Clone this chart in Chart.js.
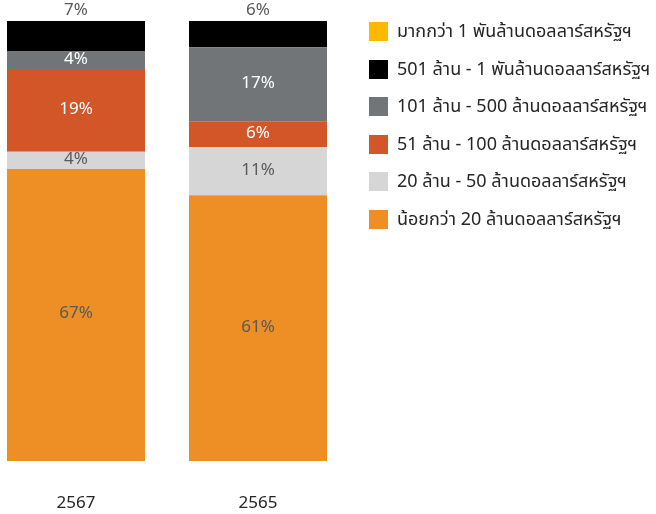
<!DOCTYPE html>
<html>
<head>
<meta charset="utf-8">
<script src="https://cdn.jsdelivr.net/npm/chart.js@4.4.1/dist/chart.umd.min.js"></script>
<style>
  html, body { margin: 0; padding: 0; background: #fff; }
  #wrap { position: relative; width: 656px; height: 514px; }
  #chart { position: absolute; left: 0; top: 0; }
  #legend { position: absolute; left: 369px; top: 22px; margin: 0; padding: 0; list-style: none;
    font-family: "Noto Sans Thai", "Noto Sans", Tahoma, sans-serif; font-size: 18px; color: #262626; }
  #legend li { height: 37.6px; display: flex; align-items: flex-start; white-space: nowrap; }
  #legend .box { width: 19px; height: 19px; margin-right: 9px; flex: none; }
  #legend .txt { line-height: 19px; }
</style>
</head>
<body>
<div id="wrap">
  <canvas id="chart" width="656" height="514"></canvas>
  <ul id="legend"></ul>
</div>
<script>
const years = ['2567', '2565'];
// bottom to top of each stack
const seriesNames = [
  'น้อยกว่า 20 ล้านดอลลาร์สหรัฐฯ',
  '20 ล้าน - 50 ล้านดอลลาร์สหรัฐฯ',
  '51 ล้าน - 100 ล้านดอลลาร์สหรัฐฯ',
  '101 ล้าน - 500 ล้านดอลลาร์สหรัฐฯ',
  '501 ล้าน - 1 พันล้านดอลลาร์สหรัฐฯ',
  'มากกว่า 1 พันล้านดอลลาร์สหรัฐฯ',
];
const under20 = [67, 61];
const from20to50 = [4, 11];
const from51to100 = [19, 6];
const from101to500 = [4, 17];
const from501to1000 = [7, 6];
const over1000 = [0, 0];
const colors = ['#ED8F24', '#D5D6D5', '#D25627', '#727577', '#000000', '#FFB800'];
const labelColors = ['#5a5a5a', '#5a5a5a', '#ffffff', '#ffffff', '#5a5a5a', '#5a5a5a'];

const values = [under20, from20to50, from51to100, from101to500, from501to1000, over1000];
const FONT = '"Noto Sans Thai", "Noto Sans", Tahoma, sans-serif';

const valueLabels = {
  id: 'valueLabels',
  afterDatasetsDraw(chart) {
    const ctx = chart.ctx;
    ctx.save();
    ctx.font = '17px ' + FONT;
    ctx.textAlign = 'center';
    ctx.textBaseline = 'middle';
    chart.data.datasets.forEach((ds, i) => {
      const meta = chart.getDatasetMeta(i);
      meta.data.forEach((bar, j) => {
        const v = ds.data[j];
        if (!v) return;
        ctx.fillStyle = labelColors[i];
        let y = (bar.y + bar.base) / 2;
        if (i === 4) y = bar.y - 9; // top black segment: label above the bar
        ctx.fillText(v + '%', bar.x, y);
      });
    });
    ctx.restore();
  },
};

const chart = new Chart(document.getElementById('chart'), {
  type: 'bar',
  data: {
    labels: years,
    datasets: seriesNames.map((name, i) => ({
      label: name,
      data: values[i],
      backgroundColor: colors[i],
      borderWidth: 0,
      clip: false,
    })),
  },
  options: {
    responsive: false,
    animation: false,
    categoryPercentage: 1,
    barPercentage: 138 / 182,
    layout: { padding: { left: 76, right: 398, top: 21, bottom: 0 } },
    scales: {
      x: {
        stacked: true,
        offset: false,
        grid: { display: false },
        border: { display: false },
        ticks: { padding: 25, color: '#262626', font: { size: 17, family: FONT } },
        afterFit: (axis) => { axis.height = 53; },
      },
      y: { stacked: true, display: false, min: 0, max: 101 },
    },
    plugins: {
      legend: { display: false },
      tooltip: { enabled: false },
    },
  },
  plugins: [valueLabels],
});

// legend, top to bottom = reverse of stack order
const legendEl = document.getElementById('legend');
seriesNames.slice().reverse().forEach((name, k) => {
  const i = seriesNames.length - 1 - k;
  const li = document.createElement('li');
  li.innerHTML = `<span class="box" style="background:${colors[i]}"></span><span class="txt">${name}</span>`;
  legendEl.appendChild(li);
});
</script>
</body>
</html>
